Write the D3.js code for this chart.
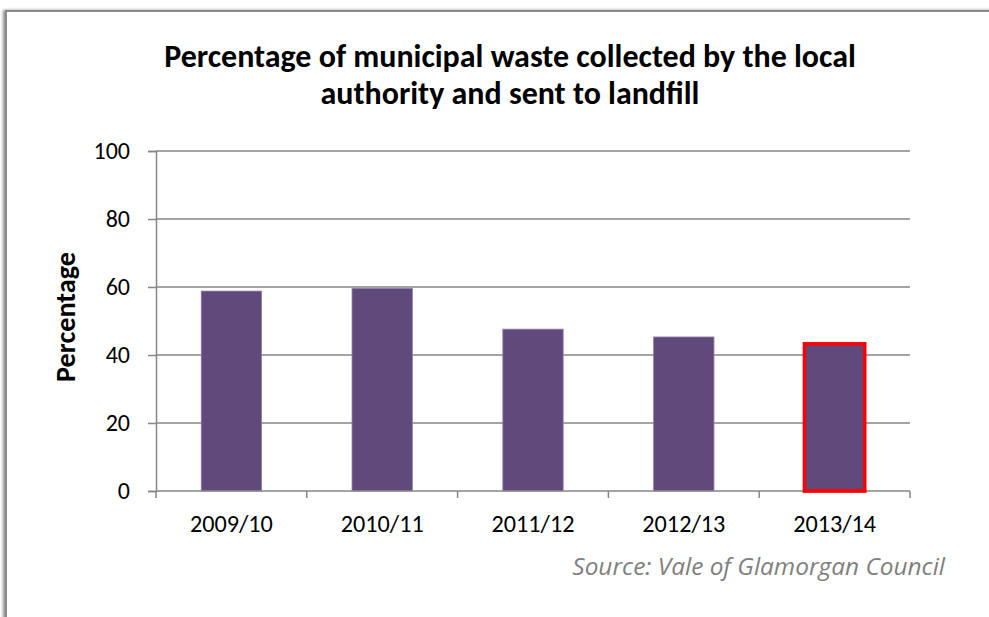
<!DOCTYPE html>
<html>
<head>
<meta charset="utf-8">
<script src="https://cdn.jsdelivr.net/npm/d3@7"></script>
<style>
  html, body { margin: 0; padding: 0; background: #ffffff; }
  svg { display: block; }
</style>
</head>
<body>
<script>
// Municipal waste sent to landfill, by financial year
const years = ["2009/10", "2010/11", "2011/12", "2012/13", "2013/14"];
const landfillPct = [58.8, 59.6, 47.6, 45.3, 43.3];
const yTicks = [0, 20, 40, 60, 80, 100];
const highlightYear = "2013/14";

const titleLines = ["Percentage of municipal waste collected by the local", "authority and sent to landfill"];
const yTitle = "Percentage";
const sourceText = "Source: Vale of Glamorgan Council";

const W = 989, H = 617;
const plot = { left: 156, right: 910, top: 151, bottom: 491 };
const gridColor = "#868686";
const barColor = "#604a7b";
const textFont = "Carlito, Lato, 'Open Sans', sans-serif";

const svg = d3.select("body").append("svg")
  .attr("width", W).attr("height", H);

// scale a text element's font size so it spans the given width
function fitWidth(sel, width, base) {
  const len = sel.node().getComputedTextLength();
  if (len > 0) sel.attr("font-size", base * width / len);
}

// Outer chart frame with soft shadow
const defs = svg.append("defs");
const shadow = defs.append("filter").attr("id", "frameShadow")
  .attr("x", "-5%").attr("y", "-5%").attr("width", "110%").attr("height", "110%");
shadow.append("feGaussianBlur").attr("in", "SourceAlpha").attr("stdDeviation", 1.5).attr("result", "b");
shadow.append("feOffset").attr("in", "b").attr("dx", -2).attr("dy", 0).attr("result", "o");
shadow.append("feComponentTransfer").attr("in", "o").attr("result", "s")
  .append("feFuncA").attr("type", "linear").attr("slope", 0.45);
const merge = shadow.append("feMerge");
merge.append("feMergeNode").attr("in", "s");
merge.append("feMergeNode").attr("in", "SourceGraphic");

svg.append("rect")
  .attr("x", 6).attr("y", 11).attr("width", W + 20).attr("height", H + 20)
  .attr("fill", "#ffffff").attr("stroke", "#8a8a8a").attr("stroke-width", 2)
  .attr("filter", "url(#frameShadow)");

const x = d3.scaleBand().domain(years).range([plot.left, plot.right]).paddingInner(0.6).paddingOuter(0.3);
const y = d3.scaleLinear().domain([0, 100]).range([plot.bottom, plot.top]);

// Horizontal gridlines
svg.append("g").selectAll("line").data(yTicks.filter(t => t > 0)).join("line")
  .attr("x1", plot.left).attr("x2", plot.right)
  .attr("y1", d => y(d)).attr("y2", d => y(d))
  .attr("stroke", gridColor).attr("stroke-width", 1.5);

// Y axis
const yAxis = svg.append("g").attr("transform", `translate(${plot.left},0)`)
  .call(d3.axisLeft(y).tickValues(yTicks).tickSize(8).tickPadding(18));
yAxis.attr("font-size", null).attr("font-family", null);
yAxis.select(".domain").attr("stroke", gridColor).attr("stroke-width", 1.5);
yAxis.selectAll(".tick line").attr("stroke", gridColor).attr("stroke-width", 1.5);
yAxis.selectAll(".tick text").attr("font-family", textFont).attr("font-size", 24).attr("fill", "#000");

// X axis: ticks sit on category boundaries
const xAxis = svg.append("g").attr("transform", `translate(0,${plot.bottom})`)
  .call(d3.axisBottom(x).tickSize(0).tickPadding(24));
xAxis.attr("font-size", null).attr("font-family", null);
xAxis.select(".domain").remove();
xAxis.selectAll(".tick text").attr("font-family", textFont).attr("font-size", 24).attr("fill", "#000");
fitWidth(xAxis.select(".tick text"), 83, 24);
const xFs = +xAxis.select(".tick text").attr("font-size");
xAxis.selectAll(".tick text").attr("font-size", xFs);

const step = (plot.right - plot.left) / years.length;
const bounds = d3.range(years.length + 1).map(i => plot.left + i * step);
svg.append("g").selectAll("line").data(bounds).join("line")
  .attr("x1", d => d).attr("x2", d => d)
  .attr("y1", plot.bottom).attr("y2", plot.bottom + 7)
  .attr("stroke", gridColor).attr("stroke-width", 1.5);

// Bars
svg.append("g").selectAll("rect").data(years.map((yr, i) => ({ yr, v: landfillPct[i] }))).join("rect")
  .attr("x", d => x(d.yr))
  .attr("y", d => y(d.v))
  .attr("width", x.bandwidth())
  .attr("height", d => plot.bottom - y(d.v))
  .attr("fill", barColor)
  .attr("stroke", d => d.yr === highlightYear ? "#ff0000" : "#8f7ca8")
  .attr("stroke-width", d => d.yr === highlightYear ? 3.5 : 0.8);

// X axis baseline drawn over bar bottoms
svg.append("line")
  .attr("x1", plot.left).attr("x2", plot.right)
  .attr("y1", plot.bottom).attr("y2", plot.bottom)
  .attr("stroke", gridColor).attr("stroke-width", 1.5);
// red bottom edge of the highlighted bar stays on top
svg.append("line")
  .attr("x1", x(highlightYear) - 1.75).attr("x2", x(highlightYear) + x.bandwidth() + 1.75)
  .attr("y1", plot.bottom).attr("y2", plot.bottom)
  .attr("stroke", "#ff0000").attr("stroke-width", 3);

// Title
const title = svg.append("text")
  .attr("text-anchor", "middle")
  .attr("font-family", textFont).attr("font-weight", "bold").attr("font-size", 25).attr("fill", "#000");
title.selectAll("tspan").data(titleLines).join("tspan")
  .attr("x", 510).attr("y", (d, i) => 67 + i * 37).text(d => d);
const firstLen = title.select("tspan").node().getComputedTextLength();
if (firstLen > 0) title.attr("font-size", 25 * 692 / firstLen);

// Y axis title
const yt = svg.append("text")
  .attr("transform", "translate(75,317) rotate(-90)")
  .attr("text-anchor", "middle")
  .attr("font-family", textFont).attr("font-weight", "bold").attr("font-size", 24).attr("fill", "#000")
  .text(yTitle);
fitWidth(yt, 130, 24);

// Source note
const src = svg.append("text")
  .attr("x", 945).attr("y", 575)
  .attr("text-anchor", "end")
  .attr("font-family", "'Open Sans', sans-serif").attr("font-style", "italic").attr("font-size", 22)
  .attr("fill", "#7f7f7f")
  .text(sourceText);
fitWidth(src, 373, 22);
</script>
</body>
</html>
